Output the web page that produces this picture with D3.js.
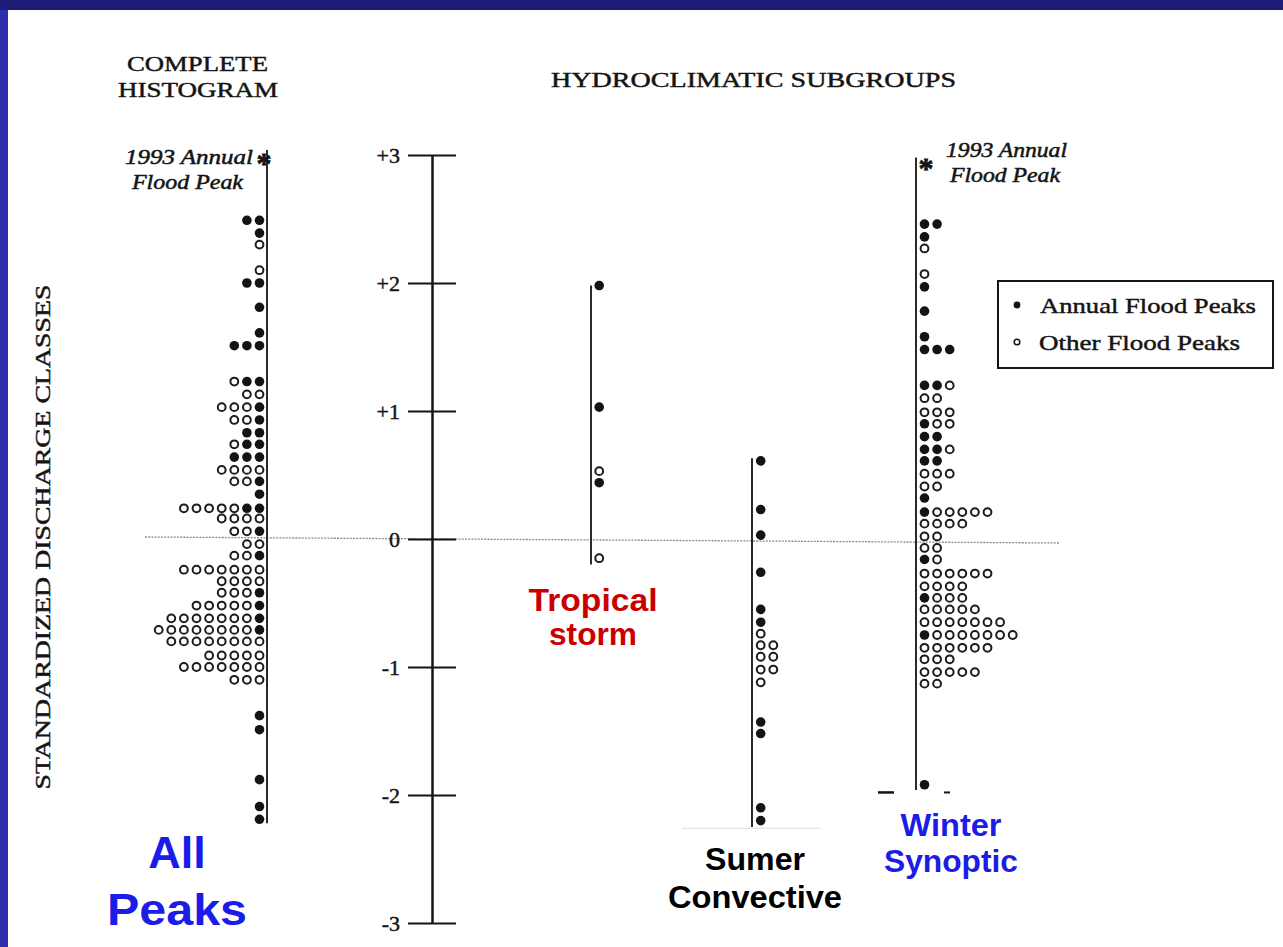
<!DOCTYPE html>
<html><head><meta charset="utf-8">
<script src="https://cdn.jsdelivr.net/npm/d3@7"></script>
<style>html,body{margin:0;padding:0;background:#fff;overflow:hidden}</style>
</head><body><svg id="c" width="1283" height="947"></svg>
<script>
// ---------- DATA ----------
const tickValues = [3, 2, 1, 0, -1, -2, -3];
const tickLabels = ["+3", "+2", "+1", "0", "-1", "-2", "-3"];

// Complete histogram (all peaks): class level, and dots from axis outward (F = annual, O = other)
const allLevels = [2.49, 2.39, 2.30, 2.10, 2.00, 1.81, 1.61, 1.51, 1.23, 1.13, 1.03, 0.93, 0.83, 0.74, 0.64, 0.54, 0.45, 0.35, 0.24, 0.16, 0.06,
  -0.04, -0.13, -0.24, -0.33, -0.42, -0.52, -0.62, -0.71, -0.80, -0.91, -1.00, -1.10, -1.38, -1.49, -1.88, -2.09, -2.19];
const allPattern = ["FF", "F", "O", "O", "FF", "F", "F", "FFF", "FFO", "OO", "FOOO", "FOO", "FF", "FFO", "FFF", "OOOO", "FOO", "F", "FFOOOOO", "OOOO", "FOO",
  "OO", "FOO", "OOOOOOO", "OOOO", "FOOO", "FOOOOO", "FOOOOOOO", "FOOOOOOOO", "OOOOOOOO", "OOOOO", "OOOOOOO", "OOO", "F", "F", "F", "F", "F"];

const tropicalLevels = [1.98, 1.03, 0.53, 0.44, -0.15];
const tropicalPattern = ["F", "F", "O", "F", "O"];

const convectiveLevels = [0.61, 0.23, 0.03, -0.26, -0.55, -0.65, -0.74, -0.83, -0.92, -1.02, -1.12, -1.43, -1.52, -2.10, -2.20];
const convectivePattern = ["F", "F", "F", "F", "F", "F", "O", "OO", "OO", "OO", "O", "F", "F", "F", "F"];

const winterLevels = [2.46, 2.36, 2.27, 2.07, 1.97, 1.78, 1.58, 1.48, 1.20, 1.10, 0.99, 0.90, 0.80, 0.70, 0.61, 0.51, 0.41, 0.32, 0.21, 0.12, 0.02,
  -0.07, -0.16, -0.27, -0.37, -0.46, -0.55, -0.65, -0.75, -0.85, -0.94, -1.04, -1.13, -1.92];
const winterPattern = ["FF", "F", "O", "O", "F", "F", "F", "FFF", "FFO", "OO", "OOO", "FOO", "FF", "FFO", "FF", "OOO", "OO", "F", "FOOOOO", "OOOO", "OO",
  "OO", "FO", "OOOOOO", "OOOO", "FOOO", "OOOOO", "OOOOOOO", "FOOOOOOO", "OOOOOO", "OOO", "OOOOO", "OO", "F"];

const panelNames = ["all", "tropical", "convective", "winter"];
const panelAxisTop = [3.04, 1.98, 0.63, 2.98];
const panelAxisBottom = [-2.22, -0.20, -2.25, -1.96];
const peak1993 = [2.98, 2.94]; // asterisks: complete histogram, winter synoptic

// ---------- LAYOUT ----------
const svg = d3.select("#c");
const W = 1283, H = 947;
const y = d3.scaleLinear().domain([-3, 3]).range([923, 155]);
const mainAxisX = 432;
const colStep = 12.6;
const layout = {
  all: { axisX: 267, dir: -1, off: 7.5 },
  tropical: { axisX: 591, dir: 1, off: 8.2 },
  convective: { axisX: 752, dir: 1, off: 8.7 },
  winter: { axisX: 916, dir: 1, off: 8.5 }
};
const serif = "'Liberation Serif','Times New Roman',serif";
const sans = "'Liberation Sans',Arial,sans-serif";
const ink = "#141414";

svg.append("rect").attr("width", W).attr("height", H).attr("fill", "#fff");
// frame
svg.append("rect").attr("x", 0).attr("y", 0).attr("width", 8).attr("height", H).attr("fill", "#2f2fae");
svg.append("rect").attr("x", 0).attr("y", 0).attr("width", W).attr("height", 10).attr("fill", "#1d1d78");

function txt(x, yy, s, o) {
  const t = svg.append("text").attr("x", x).attr("y", yy).text(s)
    .attr("font-family", o.family || serif).attr("font-size", o.size || 22)
    .attr("fill", o.fill || ink);
  if (o.weight) t.attr("font-weight", o.weight);
  if (o.style) t.attr("font-style", o.style);
  if (o.anchor) t.attr("text-anchor", o.anchor);
  if (o.len) t.attr("textLength", o.len).attr("lengthAdjust", "spacingAndGlyphs");
  if (o.transform) t.attr("transform", o.transform);
  if (o.heavy) t.attr("stroke", o.fill || ink).attr("stroke-width", o.heavy);
  return t;
}

// titles
txt(127, 71, "COMPLETE", { size: 22, len: 141, heavy: 0.45 });
txt(118, 97, "HISTOGRAM", { size: 22, len: 160, heavy: 0.45 });
txt(551, 87, "HYDROCLIMATIC SUBGROUPS", { size: 22, len: 405, heavy: 0.45 });
// y-axis title
txt(0, 0, "STANDARDIZED DISCHARGE CLASSES", { size: 22, len: 505, anchor: "middle", heavy: 0.45, transform: "translate(50,537) rotate(-90)" });

// annotations
txt(125, 164, "1993 Annual", { size: 21, style: "italic", len: 128, heavy: 0.5 });
txt(132, 189, "Flood Peak", { size: 21, style: "italic", len: 111, heavy: 0.5 });
txt(946, 157, "1993 Annual", { size: 21, style: "italic", len: 121, heavy: 0.5 });
txt(950, 182, "Flood Peak", { size: 21, style: "italic", len: 110, heavy: 0.5 });

// zero dotted line
const z = y(0);
svg.append("line").attr("x1", 145).attr("x2", 1060).attr("y1", z - 2).attr("y2", z + 4)
  .attr("stroke", "#8a8a8a").attr("stroke-width", 1.3).attr("stroke-dasharray", "2,1.2");

// main axis
const gL = svg.append("g").attr("transform", `translate(${mainAxisX},0)`)
  .call(d3.axisLeft(y).tickValues(tickValues).tickFormat((d, i) => tickLabels[i]).tickSizeInner(24).tickSizeOuter(0).tickPadding(8));
const gR = svg.append("g").attr("transform", `translate(${mainAxisX},0)`)
  .call(d3.axisRight(y).tickValues(tickValues).tickFormat("").tickSizeInner(24).tickSizeOuter(0));
[gL, gR].forEach(g => {
  g.select(".domain").attr("stroke", ink).attr("stroke-width", 2);
  g.selectAll(".tick line").attr("stroke", ink).attr("stroke-width", 2);
});
gL.selectAll(".tick text").attr("font-family", serif).attr("font-size", 22).attr("fill", ink)
  .attr("stroke", ink).attr("stroke-width", 0.45);

// panel axis lines
panelNames.forEach((p, i) => {
  const L = layout[p];
  svg.append("line").attr("x1", L.axisX).attr("x2", L.axisX)
    .attr("y1", y(panelAxisTop[i])).attr("y2", y(panelAxisBottom[i]))
    .attr("stroke", "#2a2a2a").attr("stroke-width", 2);
});

// dots
const series = { all: [allLevels, allPattern], tropical: [tropicalLevels, tropicalPattern],
  convective: [convectiveLevels, convectivePattern], winter: [winterLevels, winterPattern] };
const dots = [];
panelNames.forEach(p => {
  const [lv, pt] = series[p];
  lv.forEach((v, i) => {
    pt[i].split("").forEach((c, k) => dots.push({ p, v, k, filled: c === "F" }));
  });
});
svg.append("g").selectAll("circle").data(dots).join("circle")
  .attr("cx", d => layout[d.p].axisX + layout[d.p].dir * (layout[d.p].off + d.k * colStep))
  .attr("cy", d => y(d.v))
  .attr("r", d => d.filled ? 4.8 : 3.9)
  .attr("fill", d => d.filled ? ink : "#fff")
  .attr("stroke", d => d.filled ? "none" : "#1c1c1c")
  .attr("stroke-width", 2);

// 1993 asterisks
[["all", peak1993[0], -3], ["winter", peak1993[1], 10]].forEach(([p, v, dx]) => {
  txt(layout[p].axisX + dx, y(v) + 15, "*", { size: 30, weight: "bold", anchor: "middle", heavy: 0.8 });
});

// small cut-off marks at bottom of winter axis
svg.append("line").attr("x1", 878).attr("x2", 894).attr("y1", y(-1.98)).attr("y2", y(-1.98)).attr("stroke", ink).attr("stroke-width", 2.5);
svg.append("line").attr("x1", 944).attr("x2", 950).attr("y1", y(-1.98)).attr("y2", y(-1.98)).attr("stroke", ink).attr("stroke-width", 2);
svg.append("line").attr("x1", 682).attr("x2", 820).attr("y1", y(-2.26)).attr("y2", y(-2.26)).attr("stroke", "#dcdcdc").attr("stroke-width", 1);

// legend
const lg = svg.append("g");
lg.append("rect").attr("x", 998).attr("y", 281).attr("width", 275).attr("height", 87)
  .attr("fill", "#fff").attr("stroke", ink).attr("stroke-width", 2);
lg.append("circle").attr("cx", 1017).attr("cy", 305).attr("r", 3.4).attr("fill", ink);
lg.append("circle").attr("cx", 1017).attr("cy", 342).attr("r", 2.8).attr("fill", "#fff").attr("stroke", ink).attr("stroke-width", 1.5);
txt(1040, 313, "Annual Flood Peaks", { size: 22, len: 216, heavy: 0.45 });
txt(1039, 350, "Other Flood Peaks", { size: 22, len: 201, heavy: 0.45 });

// coloured panel labels
const blue = "#1c1ce8", red = "#c80000";
txt(177, 868, "All", { family: sans, weight: "bold", size: 45, fill: blue, anchor: "middle" });
txt(177, 925, "Peaks", { family: sans, weight: "bold", size: 45, fill: blue, anchor: "middle", len: 140 });
txt(593, 611, "Tropical", { family: sans, weight: "bold", size: 32, fill: red, anchor: "middle", len: 129 });
txt(593, 645, "storm", { family: sans, weight: "bold", size: 32, fill: red, anchor: "middle", len: 88 });
txt(755, 870, "Sumer", { family: sans, weight: "bold", size: 32, fill: "#000", anchor: "middle", len: 100 });
txt(755, 908, "Convective", { family: sans, weight: "bold", size: 32, fill: "#000", anchor: "middle", len: 174 });
txt(951, 836, "Winter", { family: sans, weight: "bold", size: 32, fill: blue, anchor: "middle", len: 101 });
txt(951, 872, "Synoptic", { family: sans, weight: "bold", size: 32, fill: blue, anchor: "middle", len: 134 });
</script></body></html>
